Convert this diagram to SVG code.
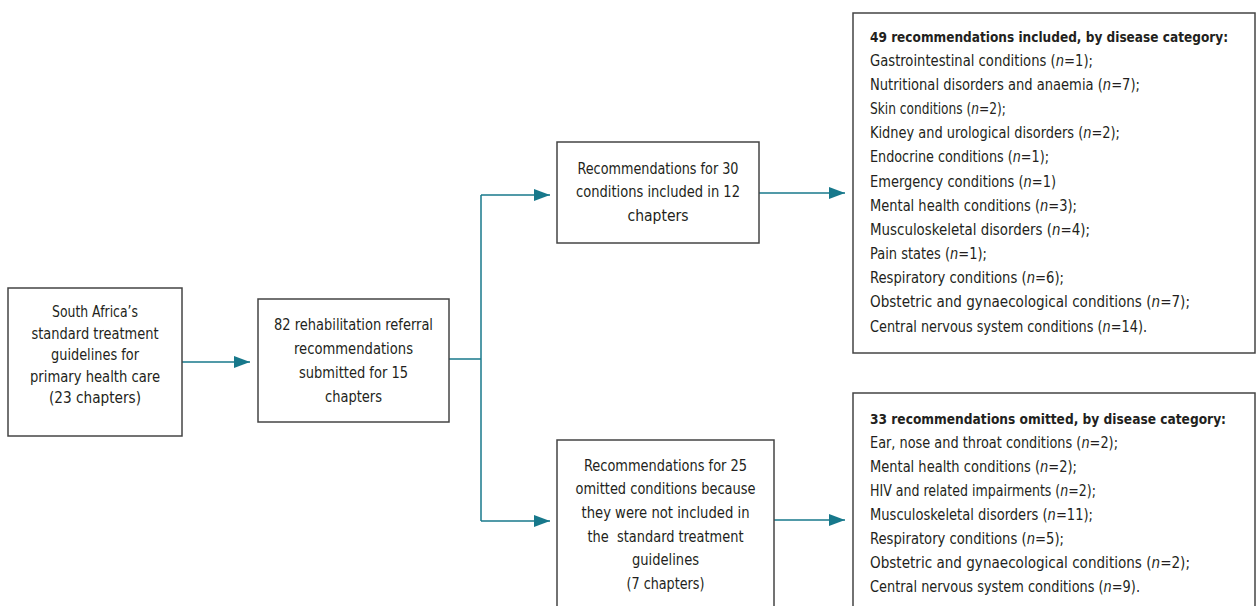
<svg xmlns="http://www.w3.org/2000/svg" width="1256" height="606" viewBox="0 0 1256 606">
<style>
text{font-family:"DejaVu Sans Condensed","Liberation Sans Narrow","Liberation Sans",sans-serif;font-size:15px;fill:#231f20}
.c{text-anchor:middle}
.b{font-weight:bold;font-size:14.5px}
.i{font-style:italic}
.box{fill:#fff;stroke:#444;stroke-width:1.5}
.con{fill:none;stroke:#17788b;stroke-width:1.5}
</style>
<defs>
<marker id="ah" viewBox="0 0 16 12" refX="16" refY="6" markerWidth="16" markerHeight="12" markerUnits="userSpaceOnUse" orient="auto">
<path d="M0,0 L16,6 L0,12 z" fill="#17788b"/>
</marker>
</defs>
<g id="connectors">
<line class="con" x1="182" y1="362" x2="250" y2="362" marker-end="url(#ah)"/>
<polyline class="con" points="449,359 481,359"/>
<polyline class="con" points="481,195 481,521"/>
<line class="con" x1="481" y1="195" x2="550" y2="195" marker-end="url(#ah)"/>
<line class="con" x1="481" y1="521" x2="550" y2="521" marker-end="url(#ah)"/>
<line class="con" x1="759" y1="193" x2="845" y2="193" marker-end="url(#ah)"/>
<line class="con" x1="774" y1="520" x2="845" y2="520" marker-end="url(#ah)"/>
</g>
<g id="n1">
<rect class="box" x="8" y="288" width="174" height="148"/>
<text class="c" x="95" y="317" textLength="86" lengthAdjust="spacingAndGlyphs">South Africa’s</text>
<text class="c" x="95" y="338.5" textLength="127" lengthAdjust="spacingAndGlyphs">standard treatment</text>
<text class="c" x="95" y="360" textLength="88" lengthAdjust="spacingAndGlyphs">guidelines for</text>
<text class="c" x="95" y="381.5" textLength="130" lengthAdjust="spacingAndGlyphs">primary health care</text>
<text class="c" x="95" y="403" textLength="92" lengthAdjust="spacingAndGlyphs">(23 chapters)</text>
</g>
<g id="n2">
<rect class="box" x="258" y="299" width="191" height="123"/>
<text class="c" x="353.5" y="330" textLength="159" lengthAdjust="spacingAndGlyphs">82 rehabilitation referral</text>
<text class="c" x="353.5" y="354" textLength="119" lengthAdjust="spacingAndGlyphs">recommendations</text>
<text class="c" x="353.5" y="378" textLength="109" lengthAdjust="spacingAndGlyphs">submitted for 15</text>
<text class="c" x="353.5" y="402" textLength="57" lengthAdjust="spacingAndGlyphs">chapters</text>
</g>
<g id="n3">
<rect class="box" x="557" y="142" width="202" height="101"/>
<text class="c" x="658" y="173.5" textLength="161" lengthAdjust="spacingAndGlyphs">Recommendations for 30</text>
<text class="c" x="658" y="197" textLength="164" lengthAdjust="spacingAndGlyphs">conditions included in 12</text>
<text class="c" x="658" y="220.5" textLength="61" lengthAdjust="spacingAndGlyphs">chapters</text>
</g>
<g id="n4">
<rect class="box" x="557" y="440" width="217" height="180"/>
<text class="c" x="665.5" y="470.5" textLength="163" lengthAdjust="spacingAndGlyphs">Recommendations for 25</text>
<text class="c" x="665.5" y="494.2" textLength="180" lengthAdjust="spacingAndGlyphs">omitted conditions because</text>
<text class="c" x="665.5" y="517.9" textLength="168" lengthAdjust="spacingAndGlyphs">they were not included in</text>
<text class="c" x="665.5" y="541.6" xml:space="preserve" textLength="156" lengthAdjust="spacingAndGlyphs">the  standard treatment</text>
<text class="c" x="665.5" y="565.3" textLength="67" lengthAdjust="spacingAndGlyphs">guidelines</text>
<text class="c" x="665.5" y="589" textLength="78" lengthAdjust="spacingAndGlyphs">(7 chapters)</text>
</g>
<g id="n5">
<rect class="box" x="853" y="13" width="402" height="340"/>
<text class="b" x="870" y="41.5" textLength="358" lengthAdjust="spacingAndGlyphs">49 recommendations included, by disease category:</text>
<text x="870" y="65.7" textLength="223" lengthAdjust="spacingAndGlyphs">Gastrointestinal conditions (<tspan class="i">n</tspan>=1);</text>
<text x="870" y="89.8" textLength="270" lengthAdjust="spacingAndGlyphs">Nutritional disorders and anaemia (<tspan class="i">n</tspan>=7);</text>
<text x="870" y="114" textLength="136" lengthAdjust="spacingAndGlyphs">Skin conditions (<tspan class="i">n</tspan>=2);</text>
<text x="870" y="138.2" textLength="250" lengthAdjust="spacingAndGlyphs">Kidney and urological disorders (<tspan class="i">n</tspan>=2);</text>
<text x="870" y="162.3" textLength="179" lengthAdjust="spacingAndGlyphs">Endocrine conditions (<tspan class="i">n</tspan>=1);</text>
<text x="870" y="186.5" textLength="186" lengthAdjust="spacingAndGlyphs">Emergency conditions (<tspan class="i">n</tspan>=1)</text>
<text x="870" y="210.7" textLength="207" lengthAdjust="spacingAndGlyphs">Mental health conditions (<tspan class="i">n</tspan>=3);</text>
<text x="870" y="234.8" textLength="220" lengthAdjust="spacingAndGlyphs">Musculoskeletal disorders (<tspan class="i">n</tspan>=4);</text>
<text x="870" y="259" textLength="117" lengthAdjust="spacingAndGlyphs">Pain states (<tspan class="i">n</tspan>=1);</text>
<text x="870" y="283.2" textLength="194" lengthAdjust="spacingAndGlyphs">Respiratory conditions (<tspan class="i">n</tspan>=6);</text>
<text x="870" y="307.3" textLength="320" lengthAdjust="spacingAndGlyphs">Obstetric and gynaecological conditions (<tspan class="i">n</tspan>=7);</text>
<text x="870" y="331.5" textLength="277" lengthAdjust="spacingAndGlyphs">Central nervous system conditions (<tspan class="i">n</tspan>=14).</text>
</g>
<g id="n6">
<rect class="box" x="853" y="393" width="402" height="230"/>
<text class="b" x="870" y="423.5" textLength="356" lengthAdjust="spacingAndGlyphs">33 recommendations omitted, by disease category:</text>
<text x="870" y="447.6" textLength="248" lengthAdjust="spacingAndGlyphs">Ear, nose and throat conditions (<tspan class="i">n</tspan>=2);</text>
<text x="870" y="471.7" textLength="207" lengthAdjust="spacingAndGlyphs">Mental health conditions (<tspan class="i">n</tspan>=2);</text>
<text x="870" y="495.8" textLength="226" lengthAdjust="spacingAndGlyphs">HIV and related impairments (<tspan class="i">n</tspan>=2);</text>
<text x="870" y="519.9" textLength="223" lengthAdjust="spacingAndGlyphs">Musculoskeletal disorders (<tspan class="i">n</tspan>=11);</text>
<text x="870" y="544" textLength="194" lengthAdjust="spacingAndGlyphs">Respiratory conditions (<tspan class="i">n</tspan>=5);</text>
<text x="870" y="568.1" textLength="320" lengthAdjust="spacingAndGlyphs">Obstetric and gynaecological conditions (<tspan class="i">n</tspan>=2);</text>
<text x="870" y="592.2" textLength="270" lengthAdjust="spacingAndGlyphs">Central nervous system conditions (<tspan class="i">n</tspan>=9).</text>
</g>
</svg>
